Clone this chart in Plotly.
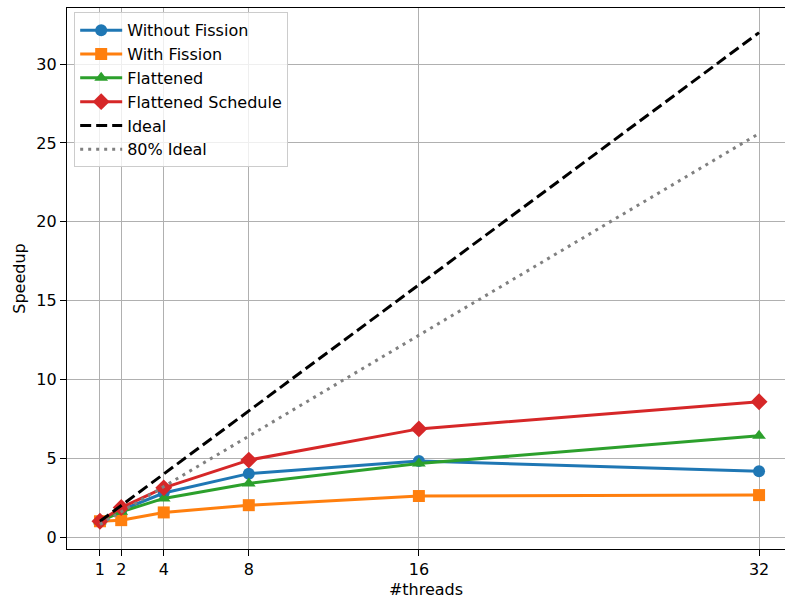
import plotly.graph_objects as go

threads = [1, 2, 4, 8, 16, 32]
without_fission = [1.0, 1.7, 2.79, 4.02, 4.82, 4.17]
with_fission = [1.0, 1.07, 1.56, 2.02, 2.6, 2.66]
flattened = [1.0, 1.6, 2.45, 3.4, 4.66, 6.42]
flattened_schedule = [1.0, 1.87, 3.12, 4.88, 6.86, 8.58]
ideal = [1, 2, 4, 8, 16, 32]
ideal80 = [0.8, 1.6, 3.2, 6.4, 12.8, 25.6]

FONT = "DejaVu Sans"
FS = 16

fig = go.Figure()
series = [
    ("Without Fission", without_fission, "#1f77b4", "circle"),
    ("With Fission", with_fission, "#ff7f0e", "square"),
    ("Flattened", flattened, "#2ca02c", "triangle-up"),
    ("Flattened Schedule", flattened_schedule, "#d62728", "diamond"),
]
for i, (name, ys, col, sym) in enumerate(series):
    fig.add_trace(go.Scatter(
        x=threads, y=ys, name=name, mode="lines+markers",
        line=dict(color=col, width=3),
        marker=dict(color=col, symbol=sym, size=12 if sym != "diamond" else 13),
        legendgroup=f"g{i}",
    ))
fig.add_trace(go.Scatter(x=threads, y=ideal, name="Ideal", mode="lines",
                         line=dict(color="black", width=3, dash="11px,5px"),
                         legendgroup="g4"))
fig.add_trace(go.Scatter(x=threads, y=ideal80, name="80% Ideal", mode="lines",
                         line=dict(color="#808080", width=3, dash="3px,5px"),
                         legendgroup="g5"))

fig.update_layout(
    width=785, height=604,
    margin=dict(l=67, r=0, t=8, b=55),
    paper_bgcolor="white", plot_bgcolor="white",
    font=dict(family=FONT, size=FS, color="black"),
    showlegend=True,
    legend=dict(x=0.01, y=0.992, xanchor="left", yanchor="top",
                bgcolor="rgba(255,255,255,0.8)", bordercolor="#cccccc", borderwidth=1,
                font=dict(family=FONT, size=FS), tracegroupgap=0,
                traceorder="grouped", itemwidth=42),
    xaxis=dict(range=[-0.55, 33.22], tickvals=threads, ticktext=[str(t) for t in threads],
               showgrid=True, gridcolor="#b0b0b0", gridwidth=1.2,
               showline=True, linecolor="black", linewidth=1.2, mirror=True,
               ticks="outside", ticklen=6, tickwidth=1.2, tickcolor="black",
               zeroline=False,
               title=dict(text="#threads", font=dict(family=FONT, size=FS), standoff=5)),
    yaxis=dict(range=[-0.76, 33.56], tickvals=[0, 5, 10, 15, 20, 25, 30],
               showgrid=True, gridcolor="#b0b0b0", gridwidth=1.2,
               showline=True, linecolor="black", linewidth=1.2, mirror=False,
               ticks="outside", ticklen=6, tickwidth=1.2, tickcolor="black",
               zeroline=False,
               title=dict(text="Speedup", font=dict(family=FONT, size=FS), standoff=6)),
)

fig.write_html("out.html")
